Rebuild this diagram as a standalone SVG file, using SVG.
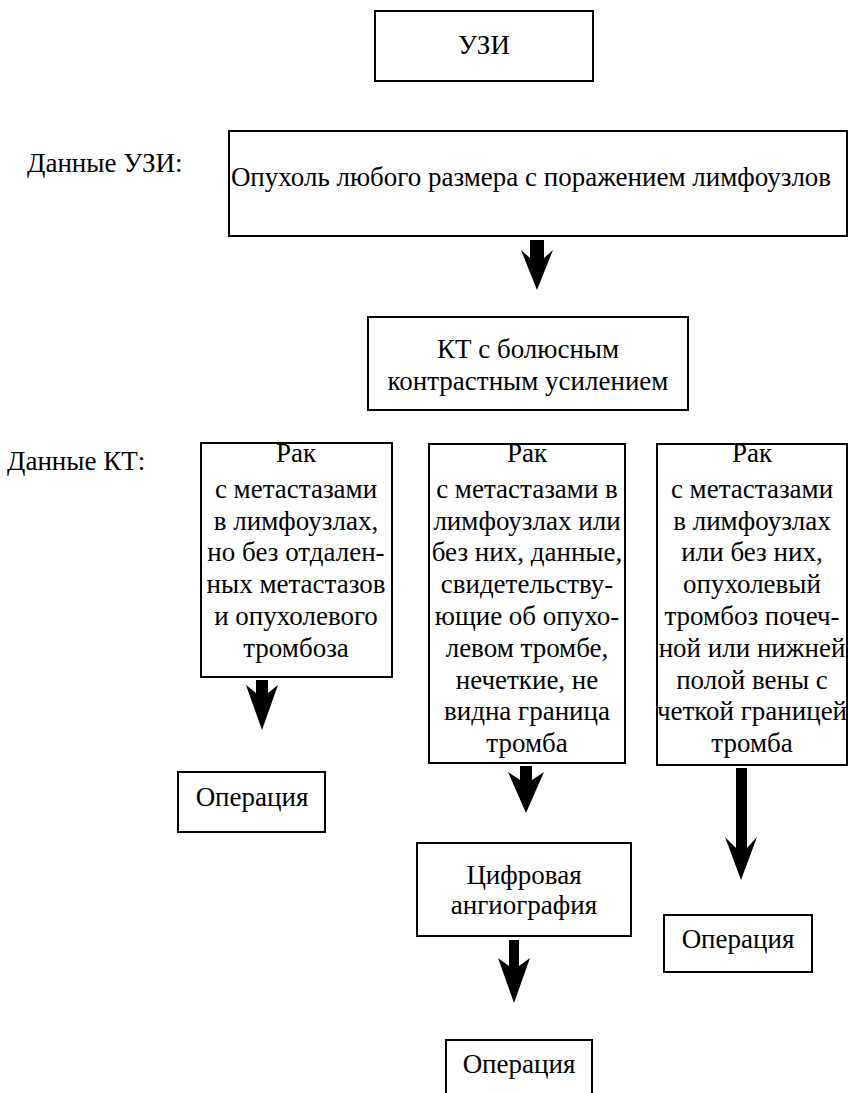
<svg xmlns="http://www.w3.org/2000/svg" width="849" height="1093" viewBox="0 0 849 1093">
<style>
.box{fill:#fff;stroke:#000;stroke-width:2}
.t{font-family:"Liberation Serif","Times New Roman",serif;font-size:27px;fill:#000;text-anchor:middle}
.l{font-family:"Liberation Serif","Times New Roman",serif;font-size:27px;fill:#000}
.arr{fill:#000;stroke:none}
</style>
<rect width="849" height="1093" fill="#fff"/>
<text class="l" x="27" y="172">Данные УЗИ:</text>
<text class="l" x="7" y="470">Данные КТ:</text>
<g id="n-uzi"><rect class="box" x="375" y="11" width="218" height="70"/><text class="t" x="484" y="54">УЗИ</text></g>
<g id="n-tumor"><rect class="box" x="229" y="131" width="618" height="105"/><text class="t" x="531" y="186">Опухоль любого размера с поражением лимфоузлов</text></g>
<g id="n-kt"><rect class="box" x="368" y="317" width="320" height="93"/><text class="t" x="528" y="358">КТ с болюсным</text><text class="t" x="528" y="390">контрастным усилением</text></g>
<g id="n-c1"><rect class="box" x="201" y="443" width="191" height="234"/>
<text class="t" x="296" y="462">Рак</text>
<text class="t" x="296" y="498">с метастазами</text>
<text class="t" x="296" y="530">в лимфоузлах,</text>
<text class="t" x="296" y="561">но без отдален-</text>
<text class="t" x="296" y="593">ных метастазов</text>
<text class="t" x="296" y="625">и опухолевого</text>
<text class="t" x="296" y="657">тромбоза</text>
</g>
<g id="n-c2"><rect class="box" x="429" y="444" width="196" height="319"/>
<text class="t" x="527" y="462">Рак</text>
<text class="t" x="527" y="498">с метастазами в</text>
<text class="t" x="527" y="530">лимфоузлах или</text>
<text class="t" x="527" y="561">без них, данные,</text>
<text class="t" x="527" y="593">свидетельству-</text>
<text class="t" x="527" y="625">ющие об опухо-</text>
<text class="t" x="527" y="657">левом тромбе,</text>
<text class="t" x="527" y="689">нечеткие, не</text>
<text class="t" x="527" y="720">видна граница</text>
<text class="t" x="527" y="752">тромба</text>
</g>
<g id="n-c3"><rect class="box" x="657" y="444" width="190" height="321"/>
<text class="t" x="752" y="462">Рак</text>
<text class="t" x="752" y="498">с метастазами</text>
<text class="t" x="752" y="530">в лимфоузлах</text>
<text class="t" x="752" y="561">или без них,</text>
<text class="t" x="752" y="593">опухолевый</text>
<text class="t" x="752" y="625">тромбоз почеч-</text>
<text class="t" x="752" y="657">ной или нижней</text>
<text class="t" x="752" y="689">полой вены с</text>
<text class="t" x="752" y="720">четкой границей</text>
<text class="t" x="752" y="752">тромба</text>
</g>
<g id="n-op1"><rect class="box" x="178" y="772" width="147" height="60"/><text class="t" x="252" y="806">Операция</text></g>
<g id="n-angio"><rect class="box" x="417" y="843" width="214" height="93"/><text class="t" x="524" y="884">Цифровая</text><text class="t" x="524" y="914">ангиография</text></g>
<g id="n-op3"><rect class="box" x="664" y="915" width="148" height="57"/><text class="t" x="738" y="948">Операция</text></g>
<g id="n-op2"><path d="M446 1093 V1040 H592 V1093" fill="#fff" stroke="#000" stroke-width="2"/><text class="t" x="519" y="1073">Операция</text></g>
<g id="connectors">
<polygon class="arr" points="530,240 544,240 544,258 553,250 537,290 521,250 530,258"/>
<polygon class="arr" points="256,680 268,680 268,693 278,685 262,730 246,685 256,693"/>
<polygon class="arr" points="520,766 532,766 532,780 544,772 526,813 508,772 520,780"/>
<polygon class="arr" points="736,768 747,768 747,848 757,837 741,880 725,837 736,848"/>
<polygon class="arr" points="509,940 519,940 519,966 530,958 514,1003 498,958 509,966"/>
</g>
</svg>
